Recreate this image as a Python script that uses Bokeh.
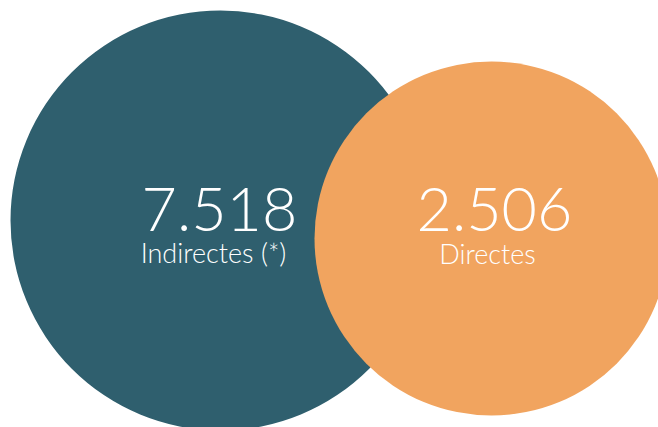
from bokeh.plotting import figure
from bokeh.models import Range1d, ColumnDataSource
from bokeh.core.properties import value
from bokeh.embed import file_html
from bokeh.resources import INLINE

# data
categories = ["Indirectes (*)", "Directes"]
values = [7518, 2506]
colors = ["#2F5F6E", "#F1A45F"]

# layout (page pixel coordinates)
cx = [220, 491]
cy = [220, 238]
radius = [210, 177]

W, H = 658, 427
p = figure(width=W, height=H, output_backend="svg", toolbar_location=None,
           x_range=Range1d(0, W), y_range=Range1d(H, 0),
           min_border=0, outline_line_color=None, background_fill_color="white",
           border_fill_color="white")
p.axis.visible = False
p.grid.visible = False

labels_num = [f"{v:,}".replace(",", ".") for v in values]
src = ColumnDataSource(dict(x=cx, y=cy, r=radius, c=colors, num=labels_num, cat=categories,
                            ny=[209, 209], ly=[252, 253],
                            nx=[219, 494], lx=[213, 487]))
p.circle(x="x", y="y", radius="r", fill_color="c", line_color=None, source=src)

font = value("Lato Light")
p.text(x="nx", y="ny", text="num", text_color="white", text_font=font,
       text_font_size="61px", text_align="center", text_baseline="alphabetic", source=src)
p.text(x="lx", y="ly", text="cat", text_color="white", text_font=font,
       text_font_size="27px", text_align="center", text_baseline="alphabetic", source=src)

open("out.html", "w").write(file_html(p, INLINE))
